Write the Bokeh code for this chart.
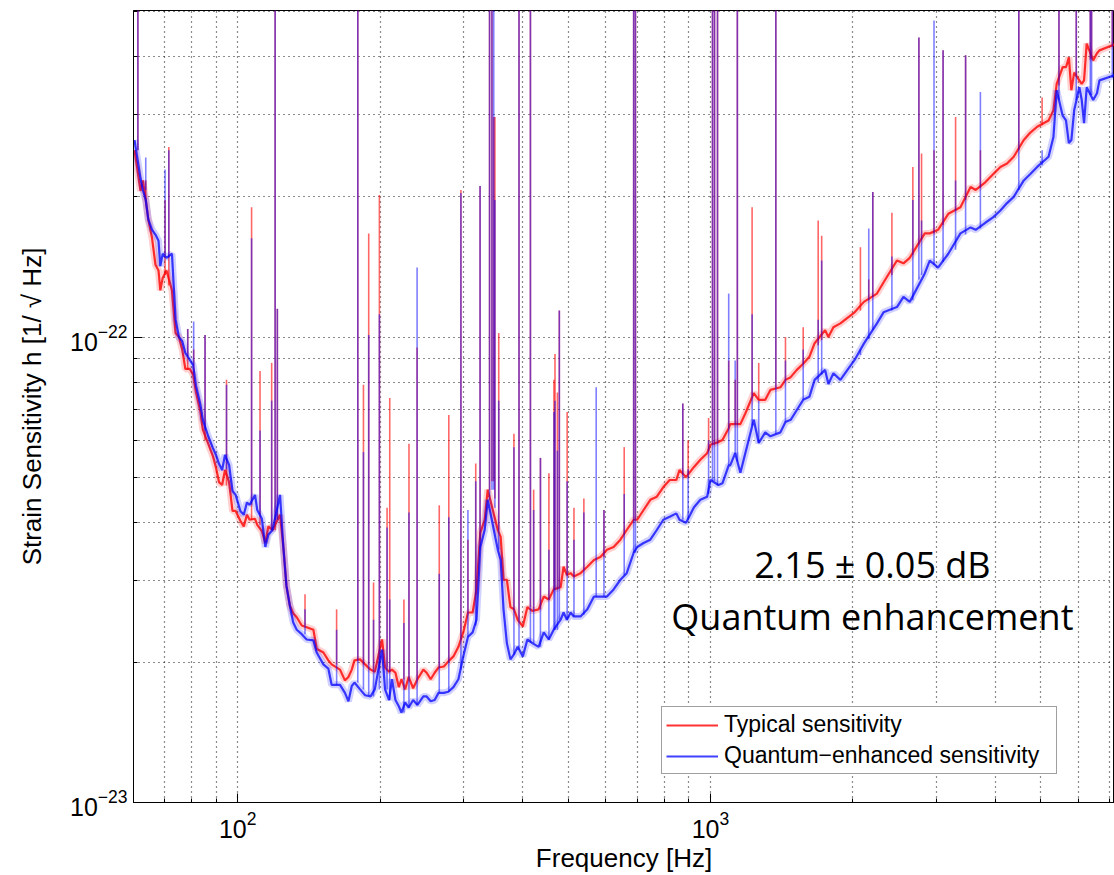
from bokeh.plotting import figure
from bokeh.models import FixedTicker, Legend, LegendItem, Label, ColumnDataSource
from bokeh.embed import file_html
from bokeh.resources import INLINE

# ---------------- data (strain values in units of 1e-23 /sqrt(Hz)) ----------------
UNIT = 1e-23

freq_hz = [60.5, 62.3, 63.0, 63.9, 64.7, 65.9, 67.0, 68.0, 68.6, 69.4, 70.7, 72.6, 73.9, 75.1,
           76.3, 77.5, 79.2, 80.5, 81.6, 83.4, 84.4, 86.6, 88.6, 90.0, 91.3, 92.7, 94.0, 95.9,
           97.5, 99.0, 101.3, 103.0, 104.6, 106.0, 108.8, 110.0, 112.5, 114.4, 116.1, 118.5,
           122.9, 124.9, 126.8, 128.9, 131.0, 133.3, 136.6, 139.9, 144.6, 146.9, 151.8, 155.5,
           158.0, 164.6, 168.6, 171.5, 174.3, 176.6, 181.5, 186, 191, 195, 202, 205, 209, 212,
           215.6, 219.2, 222, 226, 230, 235, 240, 247, 251, 256, 261, 266, 273, 279, 286, 293,
           300, 307, 314, 320, 326, 333, 338, 355, 360, 365, 371, 377.5, 384, 391, 401, 410,
           420, 433, 444, 455, 466, 482, 489, 497, 506, 514, 531, 549, 567, 585, 604, 624, 645,
           665, 688, 700, 722, 746, 770, 795, 820, 847, 860, 888, 923, 952, 984, 1000, 1040,
           1060, 1093, 1101, 1128, 1157, 1185, 1235, 1265, 1306, 1339, 1406, 1441, 1478, 1523,
           1571, 1619, 1661, 1748, 1776, 1820, 1883, 1949, 2018, 2111, 2250, 2323, 2480, 2560,
           2640, 2840, 2910, 3030, 3185, 3379, 3550, 3640, 3813, 3966, 4105, 4240, 4380, 4600,
           4750, 4910, 5190, 5315, 5400, 5560, 5650, 5730, 5800, 5880, 6030, 6100, 6170, 6250,
           6450, 6570, 6650, 7150]

typical_h = [25.2, 20.6, 21.7, 19.7, 17.9, 16.3, 14.3, 13.9, 12.6, 13.4, 13.9, 12.6, 10.2, 10.0,
             9.42, 8.54, 8.54, 8.3, 7.62, 6.9, 6.32, 5.9, 5.55, 5.23, 4.88, 4.81, 5.18, 4.88,
             4.23, 4.23, 4.03, 3.92, 4.15, 4.05, 4.07, 3.95, 3.83, 3.61, 3.92, 3.85,
             4.15, 3.54, 2.92, 2.65, 2.55, 2.50, 2.40, 2.38, 2.35, 2.14, 2.10, 2.02,
             1.98, 1.93, 1.83, 1.86, 1.93, 2.02, 2.03, 1.98, 1.93, 1.91, 2.24, 1.95, 1.91, 1.93,
             1.90, 1.77, 1.84, 1.75, 1.86, 1.76, 1.84, 1.93, 1.90, 1.84, 1.90, 1.95, 1.96, 2.01, 2.06, 2.16,
             2.32, 2.56, 2.56, 2.87, 3.80, 4.05, 4.70, 3.85, 3.72, 3.01, 3.01, 2.63, 2.60, 2.47, 2.39, 2.63,
             2.58, 2.60, 2.77, 2.73, 2.87, 2.90, 3.21, 3.08, 3.11, 3.06, 3.11, 3.21, 3.32, 3.37, 3.49, 3.54, 3.67,
             3.85, 4.05, 4.05, 4.25, 4.47, 4.54, 4.76, 4.93, 4.93, 5.18, 5.0, 5.26, 5.45, 5.63, 5.87, 5.95,
             6.01, 6.37, 6.5, 6.5, 6.5, 6.85, 7.58, 7.33, 7.33, 7.7, 7.8, 8.09, 8.2, 8.5,
             8.76, 9.07, 9.7, 10.35, 10.0, 10.5, 10.7, 11.0, 11.3, 11.9, 12.4, 13.1, 14.6, 14.4,
             14.8, 16.7, 16.7, 17.0, 18.4, 19.0, 21.0, 20.7, 21.5, 22.4, 23.2, 23.6, 24.4, 26.5,
             27.5, 28.3, 29.2, 30.7, 35.0, 38.0, 38.0, 39.9, 33.9, 37.0, 35.6, 35.0, 35.6, 42.7,
             39.3, 40.7, 41.3, 42.5]

squeezed_h = [26.5, 21.9, 20.7, 19.7, 17.9, 17.0, 16.6, 16.1, 14.2, 15.1, 14.8, 15.1, 10.9, 10.0,
              9.8, 9.24, 8.93, 8.7, 7.87, 7.15, 6.64, 6.13, 5.78, 5.58, 5.34, 5.18, 5.58, 5.31,
              4.67, 4.58, 4.23, 4.15, 4.41, 4.36, 4.58, 4.25, 4.07, 3.54, 3.76, 3.85,
              4.58, 3.54, 2.92, 2.65, 2.44, 2.35, 2.30, 2.24, 2.23, 2.10, 1.98, 1.94,
              1.79, 1.79, 1.72, 1.65, 1.78, 1.81, 1.75, 1.70, 1.69, 1.75, 2.13, 1.75, 1.66, 1.84,
              1.66, 1.61, 1.56, 1.64, 1.60, 1.66, 1.62, 1.69, 1.69, 1.65, 1.66, 1.72, 1.72, 1.73, 1.77, 1.84,
              2.06, 2.27, 2.32, 2.47, 3.54, 3.85, 4.47, 3.49, 3.32, 2.60, 2.20, 2.03, 2.08, 2.16, 2.06, 2.24,
              2.20, 2.16, 2.32, 2.24, 2.35, 2.47, 2.56, 2.47, 2.56, 2.51, 2.51, 2.60, 2.77, 2.77, 2.77, 2.87, 3.01,
              3.11, 3.44, 3.54, 3.61, 3.67, 3.85, 4.05, 4.11, 4.18, 4.05, 3.99, 4.31, 4.47, 4.54, 4.93, 4.81,
              4.85, 5.3, 5.3, 5.63, 5.11, 5.63, 6.64, 5.92, 6.24, 6.12, 6.24, 6.57, 6.64, 6.97,
              7.33, 7.44, 8.09, 8.5, 7.93, 8.36, 8.09, 8.5, 8.93, 9.68, 10.7, 11.3, 11.6, 12.2,
              11.9, 13.7, 14.6, 14.1, 15.1, 16.7, 17.2, 17.0, 17.6, 18.1, 18.7, 19.4, 20.0, 21.7,
              22.4, 23.2, 24.4, 26.9, 33.9, 29.9, 29.2, 26.1, 26.5, 30.7, 34.4, 32.3, 28.8, 34.4,
              32.3, 33.4, 35.6, 36.5]

# narrow spectral lines: frequency, top (typical / quantum-enhanced), base (typical / quantum-enhanced)
# a top of 80 means the line leaves the top of the chart
line_hz = [61.5, 63.9, 70.2, 71.5, 78.4, 80.7, 85.3, 94.7, 107.0, 111.5, 118.0, 120.0, 121.3,
           138.8, 161.9, 179.5, 184.5, 189.3, 193.8, 199.4, 207.0, 209.7, 224.7, 230.3, 239.6,
           266.9, 279.6, 296.6, 306.9, 318.8, 325.6, 341.0, 345.0, 348.0, 350.0, 356.6, 384.0,
           393.6, 416.1, 422.7, 436.9, 455.3, 466.6, 469.0, 474.5, 479.0, 497.6, 514.4, 539.8,
           573.2, 595.3, 657.0, 688.0, 694.0, 874.0, 897.0, 991.0, 1010.0, 1020.0, 1035.0,
           1093.0, 1128.0, 1140.0, 1225.0, 1265.0, 1375.0, 1441.0, 1571.0, 1690.0, 1719.0,
           2076.0, 2162.0, 2205.0, 2420.0, 2680.0, 2760.0, 2796.0, 2971.0, 3105.0, 3300.0,
           3465.0, 3724.0, 4490.0, 5030.0, 5460.0, 5940.0, 6360.0, 6400.0, 7080.0]
line_typ_top = [80, 21.7, 19.7, 25.6, 10.4, 9.4, 10.1, 8.1, 19.0, 8.45, 8.8, 80, 11.5,
                2.8, 2.6, 80, 7.9, 16.7, 2.97, 20.2, 4.3, 7.4, 2.73, 5.9, 9.5,
                4.35, 6.8, 20.7, 3.67, 5.35, 21.1, 80, 80, 29.7, 29.7, 10.2, 6.2,
                80, 80, 4.7, 5.5, 5.1, 8.1, 9.2, 7.6, 11.4, 6.9, 4.3, 4.5,
                3.32, 4.25, 5.8, 80, 80, 7.2, 6.0, 6.7, 80, 80, 80,
                8.9, 8.1, 80, 19.0, 8.8, 80, 10.0, 10.5, 17.8, 16.5,
                15.6, 13.3, 20.5, 18.5, 23.2, 44.0, 24.8, 25.2, 41.3, 29.7,
                40.3, 25.2, 80, 32.7, 80, 50.3, 80, 80, 80]
line_sqz_top = [80, 24.3, 22.9, 25.2, 10.4, 10.8, 10.1, 7.9, 16.3, 6.3, 7.3, 80, 11.5,
                2.6, 2.35, 80, 5.66, 10.1, 2.47, 11.2, 3.9, 2.73, 2.43, 4.2, 14.1,
                3.1, 4.1, 20.4, 4.25, 4.9, 21.1, 80, 80, 80, 19.7, 7.3, 5.8,
                80, 80, 4.25, 5.5, 3.49, 6.9, 7.3, 5.7, 11.4, 4.9, 3.67, 4.2,
                7.8, 4.25, 4.6, 80, 80, 7.2, 5.2, 6.0, 80, 80, 80,
                12.4, 8.9, 80, 11.2, 7.3, 80, 8.9, 9.4, 10.9, 14.6,
                9.4, 17.1, 20.5, 14.9, 19.7, 44.0, 17.8, 47.9, 41.3, 21.7,
                40.3, 33.6, 80, 25.2, 80, 50.3, 80, 80, 80]
line_typ_base = [25.2, 19.7, 13.6, 12.9, 8.5, 8.3, 6.0, 4.8, 4.05, 3.95, 3.85, 3.85, 4.05,
                 2.40, 1.98, 2.02, 1.98, 1.98, 1.93, 1.93, 1.95, 1.91, 1.84, 1.86, 1.84,
                 1.95, 2.01, 2.24, 2.56, 2.8, 3.67, 4.7, 4.9, 4.9, 4.5, 3.85, 2.6,
                 2.47, 2.63, 2.6, 2.6, 2.73, 2.87, 2.87, 2.87, 2.9, 3.08, 3.06, 3.16,
                 3.32, 3.37, 3.76, 4.05, 4.05, 5.06, 5.06, 5.7, 5.87, 5.87, 5.9,
                 6.4, 6.5, 6.5, 7.5, 7.33, 7.8, 8.1, 8.76, 9.6, 9.85,
                 11.4, 12.0, 12.2, 13.6, 15.0, 15.8, 16.2, 16.7, 17.4, 18.7,
                 19.7, 20.9, 25.2, 28.5, 34.7, 36.5, 39.5, 39.5, 42.0]
line_sqz_base = [25.2, 20.7, 15.0, 14.8, 9.1, 8.7, 6.3, 5.2, 4.36, 4.15, 3.85, 4.05, 4.05,
                 2.30, 1.79, 1.81, 1.75, 1.70, 1.69, 1.75, 1.75, 1.66, 1.56, 1.60, 1.62,
                 1.72, 1.73, 1.93, 2.27, 2.4, 3.49, 4.47, 4.7, 4.7, 4.3, 3.49, 2.08,
                 2.13, 2.2, 2.2, 2.16, 2.24, 2.35, 2.35, 2.35, 2.47, 2.47, 2.51, 2.53,
                 2.77, 2.77, 3.08, 3.44, 3.44, 4.05, 4.05, 4.6, 4.9, 4.9, 4.8,
                 5.3, 5.6, 5.4, 6.45, 5.92, 6.2, 6.57, 7.33, 8.0, 8.3,
                 9.15, 9.9, 10.35, 11.4, 12.0, 13.3, 13.6, 14.3, 14.5, 15.4,
                 16.6, 17.1, 20.7, 23.4, 32.3, 32.3, 33.1, 33.1, 36.0]

x_major_ticks = [100, 1000]
x_minor_ticks = [60, 70, 80, 90, 200, 300, 400, 500, 600, 700, 800, 900,
                 2000, 3000, 4000, 5000, 6000, 7000]
y_major_ticks = [1e-23, 1e-22]
y_minor_ticks = [2e-23, 3e-23, 4e-23, 5e-23, 6e-23, 7e-23, 8e-23, 9e-23,
                 2e-22, 3e-22, 4e-22, 5e-22]

# ---------------- figure ----------------
p = figure(width=1114, height=875, x_axis_type="log", y_axis_type="log",
           x_range=(60.2, 7156), y_range=(1e-23, 5.03e-22),
           output_backend="svg", toolbar_location=None,
           min_border_left=133, min_border_right=0, min_border_top=10, min_border_bottom=72,
           background_fill_color="white", border_fill_color="white")

src = ColumnDataSource(dict(f=freq_hz,
                            typ=[v * UNIT for v in typical_h],
                            sqz=[v * UNIT for v in squeezed_h]))
lines = ColumnDataSource(dict(f=line_hz,
                              typ_top=[v * UNIT for v in line_typ_top],
                              sqz_top=[v * UNIT for v in line_sqz_top],
                              typ_base=[v * UNIT for v in line_typ_base],
                              sqz_base=[v * UNIT for v in line_sqz_base]))

RED = "#ff0000"
BLUE = "#0000ff"
# soft band under each trace (the measured spectra are noisy, a few pixels thick)
p.line("f", "typ", source=src, line_color=RED, line_width=7, line_alpha=0.18)
r_typ = p.line("f", "typ", source=src, line_color=RED, line_width=2.2, line_alpha=0.8)
p.segment(x0="f", y0="typ_base", x1="f", y1="typ_top", source=lines,
          line_color=RED, line_width=1.6, line_alpha=0.6)
p.line("f", "sqz", source=src, line_color=BLUE, line_width=7, line_alpha=0.18)
r_sqz = p.line("f", "sqz", source=src, line_color=BLUE, line_width=2.2, line_alpha=0.75)
p.segment(x0="f", y0="sqz_base", x1="f", y1="sqz_top", source=lines,
          line_color=BLUE, line_width=1.6, line_alpha=0.5)

# axes
xt = FixedTicker(ticks=x_major_ticks, minor_ticks=x_minor_ticks)
yt = FixedTicker(ticks=y_major_ticks, minor_ticks=y_minor_ticks)
p.xaxis.ticker = xt
p.yaxis.ticker = yt
p.xgrid.ticker = xt
p.ygrid.ticker = yt

for ax in (p.xaxis, p.yaxis):
    ax.axis_line_color = "black"
    ax.major_tick_line_color = "black"
    ax.minor_tick_line_color = "black"
    ax.major_tick_in = 9
    ax.major_tick_out = 0
    ax.minor_tick_in = 4
    ax.minor_tick_out = 0
    ax.major_label_text_font = "Liberation Sans"
    ax.major_label_text_font_size = "25px"
    ax.major_label_text_color = "black"
    ax.axis_label_text_font = "Liberation Sans"
    ax.axis_label_text_font_size = "26px"
    ax.axis_label_text_font_style = "normal"
    ax.axis_label_text_color = "black"

p.xaxis.axis_label = "Frequency [Hz]"
p.yaxis.axis_label = "Strain Sensitivity h [1/ \u221a Hz]"
p.xaxis.major_label_standoff = 8
p.xaxis.axis_label_standoff = 2
p.yaxis.major_label_standoff = 6
p.yaxis.axis_label_standoff = 20

for g in (p.xgrid, p.ygrid):
    g.grid_line_color = "black"
    g.grid_line_alpha = 0.9
    g.grid_line_dash = "1 4"
    g.grid_line_width = 1.2
    g.minor_grid_line_color = "black"
    g.minor_grid_line_alpha = 0.9
    g.minor_grid_line_dash = "1 4"
    g.minor_grid_line_width = 1.2

p.outline_line_color = "black"
p.outline_line_width = 1
p.outline_line_alpha = 1

# annotation
p.add_layout(Label(x=2201, y=3.24e-23, text="2.15 \u00b1 0.05 dB", text_align="center",
                   text_baseline="alphabetic", text_font="Open Sans", text_font_size="36px",
                   text_color="black"))
p.add_layout(Label(x=2201, y=2.506e-23, text="Quantum enhancement", text_align="center",
                   text_baseline="alphabetic", text_font="Open Sans", text_font_size="36px",
                   text_color="black"))

legend = Legend(items=[LegendItem(label="Typical sensitivity", renderers=[r_typ]),
                       LegendItem(label="Quantum\u2212enhanced sensitivity", renderers=[r_sqz])],
                location=(528, 28))
legend.label_text_font = "Liberation Sans"
legend.label_text_font_size = "23px"
legend.label_text_color = "black"
legend.glyph_width = 52
legend.glyph_height = 22
legend.label_height = 22
legend.label_width = 328
legend.label_standoff = 6
legend.spacing = 4
legend.padding = 4
legend.margin = 0
legend.border_line_color = "#404040"
legend.border_line_width = 1
legend.background_fill_color = "white"
legend.background_fill_alpha = 1
p.add_layout(legend)

open("out.html", "w").write(file_html(p, INLINE))
